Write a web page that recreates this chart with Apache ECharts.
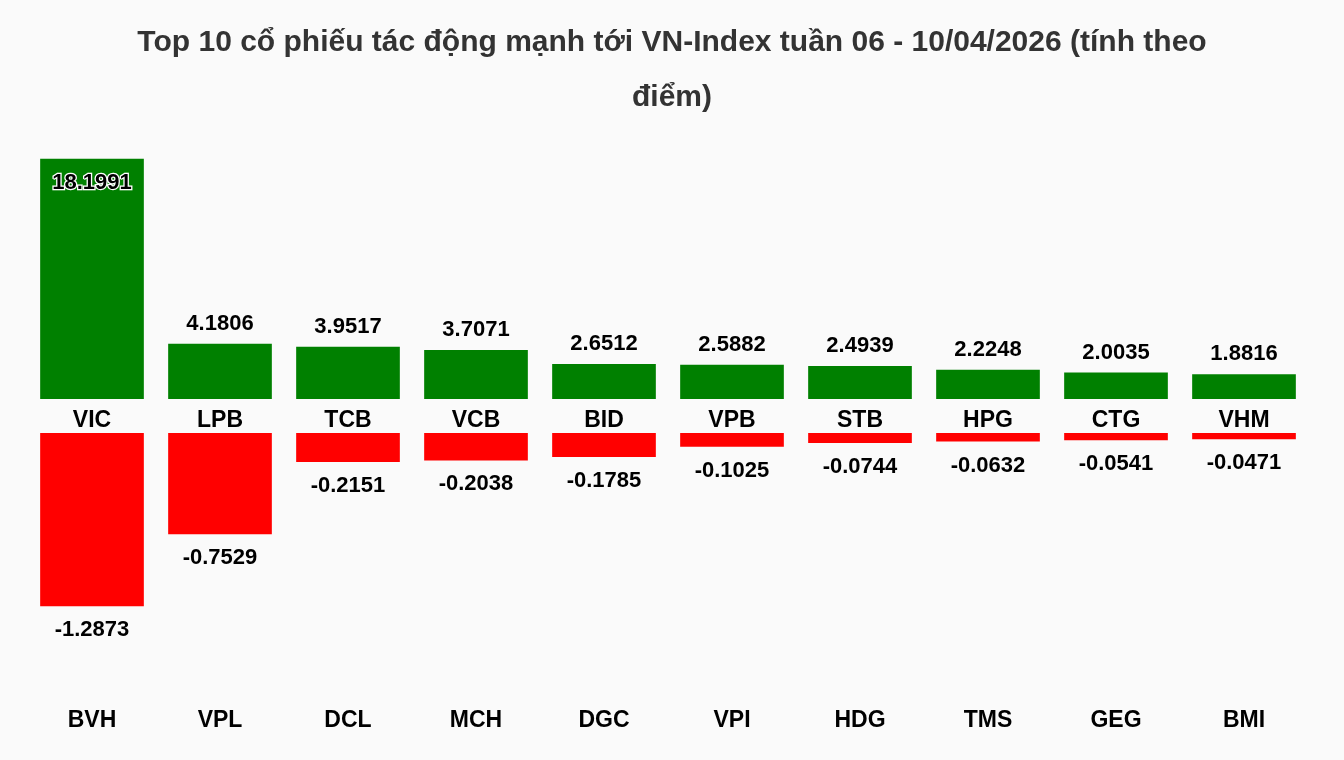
<!DOCTYPE html>
<html lang="vi">
<head>
    <meta charset="UTF-8">
    <title>Top 10 cổ phiếu tác động mạnh tới VN-Index</title>
    <script type="text/javascript" src="https://cdn.jsdelivr.net/npm/echarts@6/dist/echarts.min.js"></script>
    <style>
        html, body { margin: 0; padding: 0; background: #fafafa; }
    </style>
</head>
<body>
<div id="chart" style="width: 1344px;height: 760px"></div>
<script type="text/javascript">
    // cổ phiếu tác động tăng
    var upNames = ['VIC', 'LPB', 'TCB', 'VCB', 'BID', 'VPB', 'STB', 'HPG', 'CTG', 'VHM'];
    var upValues = [18.1991, 4.1806, 3.9517, 3.7071, 2.6512, 2.5882, 2.4939, 2.2248, 2.0035, 1.8816];
    // cổ phiếu tác động giảm
    var downNames = ['BVH', 'VPL', 'DCL', 'MCH', 'DGC', 'VPI', 'HDG', 'TMS', 'GEG', 'BMI'];
    var downValues = [-1.2873, -0.7529, -0.2151, -0.2038, -0.1785, -0.1025, -0.0744, -0.0632, -0.0541, -0.0471];

    var font = '"Liberation Sans", Arial, Helvetica, sans-serif';
    var upMax = Math.max.apply(null, upValues);

    var myChart = echarts.init(document.getElementById('chart'));

    var catLabel = {
        fontFamily: font,
        fontSize: 23,
        fontWeight: 'bold',
        color: '#000'
    };

    var option = {
        backgroundColor: '#fafafa',
        animation: false,
        title: {
            text: 'Top 10 cổ phiếu tác động mạnh tới VN-Index tuần 06 - 10/04/2026 (tính theo\nđiểm)',
            left: 'center',
            top: 10,
            textStyle: {
                fontFamily: font,
                fontSize: 30,
                fontWeight: 'bold',
                color: '#333',
                lineHeight: 55
            }
        },
        grid: [
            {left: 28, right: 36, top: 135, height: 264},
            {left: 28, right: 36, top: 433, height: 269}
        ],
        xAxis: [
            {
                type: 'category', gridIndex: 0, data: upNames,
                axisLine: {show: false}, axisTick: {show: false},
                axisLabel: Object.assign({margin: 10}, catLabel)
            },
            {
                type: 'category', gridIndex: 1, data: downNames, position: 'bottom',
                axisLine: {show: false}, axisTick: {show: false},
                axisLabel: Object.assign({margin: 7}, catLabel)
            }
        ],
        yAxis: [
            {type: 'value', gridIndex: 0, min: 0, max: 20, show: false, splitLine: {show: false}},
            {type: 'value', gridIndex: 1, min: -2, max: 0, show: false, splitLine: {show: false}}
        ],
        series: [
            {
                type: 'bar',
                xAxisIndex: 0,
                yAxisIndex: 0,
                barCategoryGap: '19%',
                itemStyle: {color: '#008000'},
                label: {
                    show: true,
                    position: 'top',
                    distance: 9,
                    fontFamily: font,
                    fontSize: 22,
                    fontWeight: 'bold',
                    color: '#000'
                },
                data: upValues.map(function (v) {
                    if (v !== upMax) return v;
                    return {
                        value: v,
                        label: {
                            position: 'insideTop',
                            distance: 13,
                            textBorderColor: '#fff',
                            textBorderWidth: 2.5
                        }
                    };
                })
            },
            {
                type: 'bar',
                xAxisIndex: 1,
                yAxisIndex: 1,
                barCategoryGap: '19%',
                itemStyle: {color: '#ff0000'},
                label: {
                    show: true,
                    position: 'bottom',
                    distance: 13,
                    fontFamily: font,
                    fontSize: 22,
                    fontWeight: 'bold',
                    color: '#000'
                },
                data: downValues
            }
        ]
    };
    myChart.setOption(option);
</script>
</body>
</html>
